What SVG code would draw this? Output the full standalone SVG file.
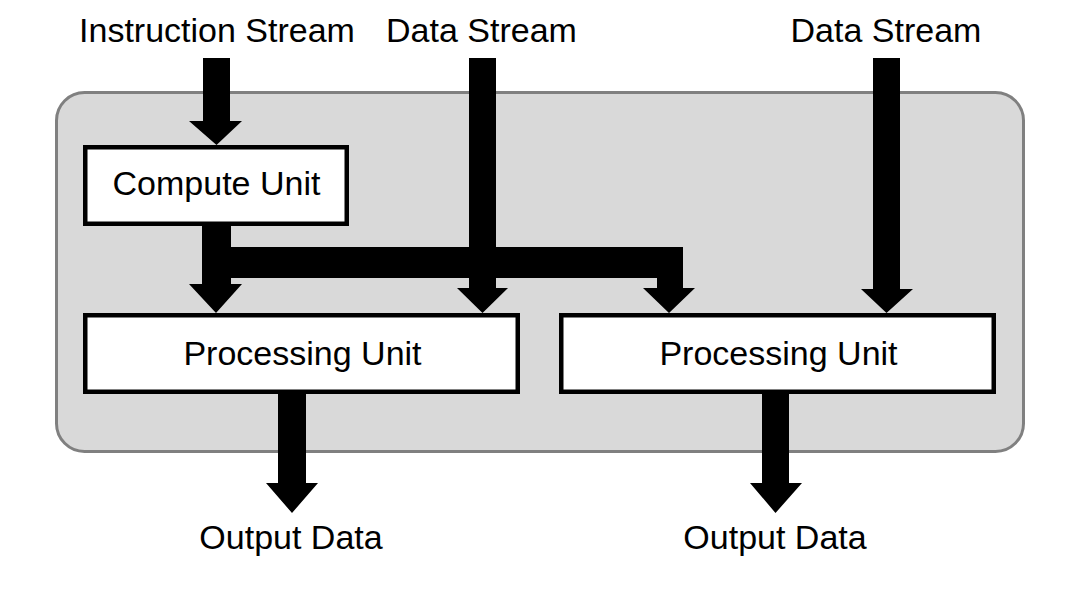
<svg xmlns="http://www.w3.org/2000/svg" width="1078" height="602" viewBox="0 0 1078 602">
<style>
.lbl{font-family:"Liberation Sans",Arial,sans-serif;font-size:34px;fill:#000;text-anchor:middle}
.box{fill:#fff;stroke:#000;stroke-width:4.5}
.arr{fill:#000;stroke:none}
</style>
<rect width="1078" height="602" fill="#fff"/>
<g id="container">
<rect x="56.5" y="92.5" width="967" height="359" rx="28" ry="28" fill="#d9d9d9" stroke="#808080" stroke-width="3"/>
</g>
<g id="connectors">
<polygon class="arr" points="203,58 230,58 230,121 242,121 216.5,145 189,121 203,121"/>
<polygon class="arr" points="202,224 231,224 231,247 683,247 683,288 695,288 669,313 643,288 657,288 657,278 231,278 231,284 242,284 216,313 189,284 202,284"/>
<polygon class="arr" points="469,58 496,58 496,288 508,288 482.5,313 457,288 469,288"/>
<polygon class="arr" points="873,58 900,58 900,289 913,289 886.5,313 861,289 873,289"/>
<polygon class="arr" points="278,392 306,392 306,483 318,483 292,513 266,483 278,483"/>
<polygon class="arr" points="762,392 789,392 789,483 802,483 775.5,513 750,483 762,483"/>
</g>
<g id="instruction-stream"><text class="lbl" x="217" y="42">Instruction Stream</text></g>
<g id="data-stream-1"><text class="lbl" x="481.5" y="42">Data Stream</text></g>
<g id="data-stream-2"><text class="lbl" x="886" y="42">Data Stream</text></g>
<g id="compute-unit">
<rect class="box" x="85.25" y="147.25" width="261.5" height="76.5"/>
<text class="lbl" x="216.5" y="195">Compute Unit</text>
</g>
<g id="processing-unit-1">
<rect class="box" x="85.25" y="315.25" width="432.5" height="76.5"/>
<text class="lbl" x="302.5" y="365">Processing Unit</text>
</g>
<g id="processing-unit-2">
<rect class="box" x="561.25" y="315.25" width="432.5" height="76.5"/>
<text class="lbl" x="778.5" y="365">Processing Unit</text>
</g>
<g id="output-data-1"><text class="lbl" x="291" y="549">Output Data</text></g>
<g id="output-data-2"><text class="lbl" x="775" y="549">Output Data</text></g>
</svg>
